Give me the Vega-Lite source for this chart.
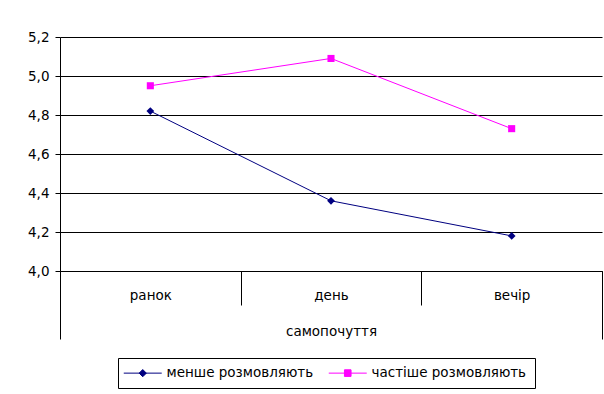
{
  "$schema": "https://vega.github.io/schema/vega-lite/v6.json",
  "width": 542,
  "height": 234,
  "autosize": "none",
  "padding": {"left": 60, "top": 37, "right": 2, "bottom": 123},
  "background": "white",
  "config": {
    "font": "DejaVu Sans",
    "view": {"stroke": null},
    "axis": {"labelFont": "DejaVu Sans", "labelFontSize": 13.5, "labelColor": "black", "domainColor": "black", "tickColor": "black"}
  },
  "data": {
    "values": [
      {"time": "ранок", "group": "менше розмовляють", "value": 4.82, "cat": "самопочуття"},
      {"time": "день", "group": "менше розмовляють", "value": 4.36, "cat": "самопочуття"},
      {"time": "вечір", "group": "менше розмовляють", "value": 4.18, "cat": "самопочуття"},
      {"time": "ранок", "group": "частіше розмовляють", "value": 4.95, "cat": "самопочуття"},
      {"time": "день", "group": "частіше розмовляють", "value": 5.09, "cat": "самопочуття"},
      {"time": "вечір", "group": "частіше розмовляють", "value": 4.73, "cat": "самопочуття"}
    ]
  },
  "layer": [
    {
      "mark": {"type": "point", "opacity": 0},
      "encoding": {
        "x": {"field": "cat", "type": "nominal", "scale": {"type": "band", "paddingInner": 0, "paddingOuter": 0},
          "axis": {"orient": "bottom", "title": null, "domain": false, "tickBand": "extent", "tickSize": 68, "tickWidth": 1, "labelPadding": -15, "labelBaseline": "top", "labelAngle": 0}},
        "y": {"field": "value", "type": "quantitative",
          "scale": {"domain": [4.0, 5.2], "zero": false, "nice": false},
          "axis": {"title": null, "values": [4.0, 4.2, 4.4, 4.6, 4.8, 5.0, 5.2], "tickCount": 7, "labelExpr": "replace(format(datum.value, '.1f'), '.', ',')", "grid": true, "gridColor": "black", "gridWidth": 1, "gridOpacity": 1, "tickSize": 5, "labelPadding": 6, "domainColor": "black", "labelOverlap": false}}
      }
    },
    {
      "layer": [
        {
          "mark": {"type": "line", "strokeWidth": 1},
          "encoding": {
            "x": {"field": "time", "type": "nominal", "sort": ["ранок", "день", "вечір"],
              "scale": {"type": "band", "paddingInner": 0, "paddingOuter": 0},
              "axis": {"orient": "bottom", "title": null, "tickBand": "extent", "tickSize": 34, "tickWidth": 1, "domainWidth": 1, "labelPadding": -17, "labelAngle": 0, "labelBaseline": "top", "grid": false}},
            "y": {"field": "value", "type": "quantitative",
              "scale": {"domain": [4.0, 5.2], "zero": false, "nice": false},
              "axis": {"title": null, "values": [4.0, 4.2, 4.4, 4.6, 4.8, 5.0, 5.2], "tickCount": 7, "labelExpr": "replace(format(datum.value, '.1f'), '.', ',')", "grid": true, "gridColor": "black", "gridWidth": 1, "gridOpacity": 1, "tickSize": 5, "labelPadding": 6, "domainColor": "black", "labelOverlap": false}},
            "color": {"field": "group", "type": "nominal",
              "scale": {"domain": ["менше розмовляють", "частіше розмовляють"], "range": ["#000080", "#FF00FF"]},
              "legend": {"title": null, "orient": "none", "legendX": 58, "legendY": 321, "direction": "horizontal",
                "strokeColor": "black", "padding": 8, "columnPadding": 12, "labelFont": "DejaVu Sans", "labelFontSize": 13.5, "labelColor": "black",
                "symbolSize": 144, "symbolStrokeWidth": 1, "labelOffset": 27,
                "symbolType": "M-1.5,0H4.833",
                "encode": {"symbols": {"update": {
                  "shape": {"signal": "datum.value == 'менше розмовляють' ? 'M-1.5,0H4.833M1.667,-0.6L2.267,0L1.667,0.6L1.067,0Z' : 'M-1.5,0H4.833M1.117,-0.55H2.217V0.55H1.117Z'"},
                  "fill": {"signal": "scale('color', datum.value)"},
                  "stroke": {"signal": "scale('color', datum.value)"},
                  "opacity": {"value": 1}
                }}}}
            }
          }
        },
        {
          "transform": [{"filter": "datum.group == 'менше розмовляють'"}],
          "mark": {"type": "point", "filled": true, "size": 60, "opacity": 1, "shape": "diamond"},
          "encoding": {
            "x": {"field": "time", "type": "nominal", "sort": ["ранок", "день", "вечір"]},
            "y": {"field": "value", "type": "quantitative"},
            "color": {"field": "group", "type": "nominal"}
          }
        },
        {
          "transform": [{"filter": "datum.group == 'частіше розмовляють'"}],
          "mark": {"type": "point", "filled": true, "size": 50, "opacity": 1, "shape": "square"},
          "encoding": {
            "x": {"field": "time", "type": "nominal", "sort": ["ранок", "день", "вечір"]},
            "y": {"field": "value", "type": "quantitative"},
            "color": {"field": "group", "type": "nominal"}
          }
        }
      ]
    }
  ],
  "resolve": {"scale": {"x": "independent"}, "axis": {"x": "independent"}}
}
